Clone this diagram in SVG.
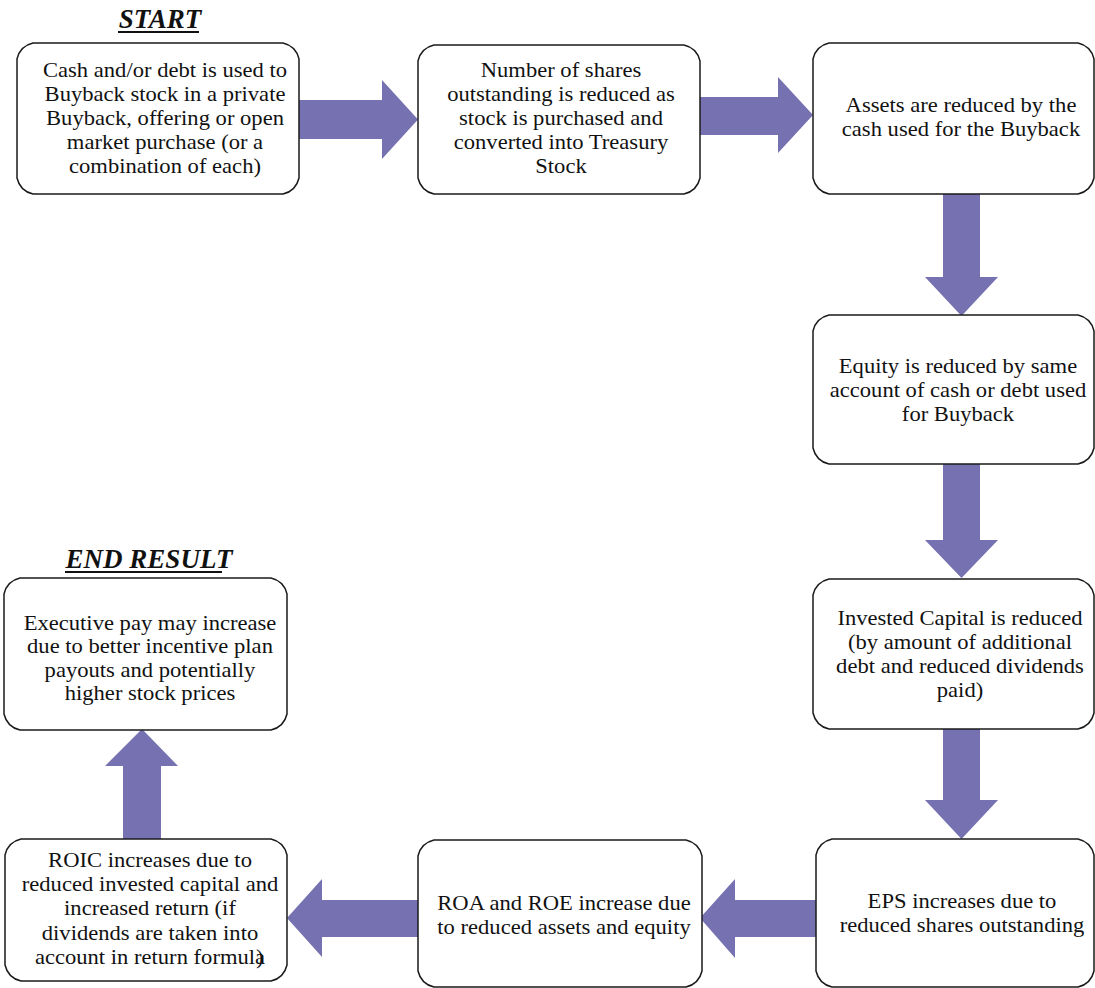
<svg xmlns="http://www.w3.org/2000/svg" width="1095" height="988" viewBox="0 0 1095 988">
<style>
.box{fill:#fff;stroke:#1a1a1a;stroke-width:1.5}
.t{font-family:"Liberation Serif","Times New Roman",serif;font-size:20px;fill:#111;text-anchor:middle}
.h{font-family:"Liberation Serif","Times New Roman",serif;font-size:27px;font-weight:bold;font-style:italic;fill:#111;text-anchor:middle}
.arr{fill:#7671B1}
</style>
<rect width="1095" height="988" fill="#fff"/>
<g id="title-start"><text class="h" x="160" y="28">START</text><line x1="118" y1="32" x2="199" y2="32" stroke="#111" stroke-width="2"/></g>
<g id="title-end"><text class="h" x="149" y="568">END RESULT</text><line x1="65" y1="572" x2="222" y2="572" stroke="#111" stroke-width="2"/></g>
<g id="connectors">
<polygon class="arr" points="299,100 382,100 382,80 418,119.5 382,159 382,139 299,139"/>
<polygon class="arr" points="700,97 778,97 778,77 813,115 778,153 778,135 700,135"/>
<polygon class="arr" points="943,194 980,194 980,277 998,277 961.5,316 925,277 943,277"/>
<polygon class="arr" points="943,464 980,464 980,540 998,540 961.5,578 925,540 943,540"/>
<polygon class="arr" points="943,729 980,729 980,800 998,800 961.5,839 925,800 943,800"/>
<polygon class="arr" points="816,900 735,900 735,879 700,918 735,958 735,937 816,937"/>
<polygon class="arr" points="418,900 322,900 322,879 287,918 322,957 322,937 418,937"/>
<polygon class="arr" points="123,839 123,766 105,766 142,729 178,766 161,766 161,839"/>
</g>
<g id="n1">
<path class="box" d="M33,43 H283 Q296,46 299,59 V178 Q296,191 283,194 H33 Q20,191 17,178 V59 Q20,46 33,43 Z"/>
<text class="t" transform="translate(165,0) scale(1.13,1)"><tspan x="0" y="77">Cash and/or debt is used to</tspan><tspan x="0" y="101">Buyback stock in a private</tspan><tspan x="0" y="125">Buyback, offering or open</tspan><tspan x="0" y="149">market purchase (or a</tspan><tspan x="0" y="173">combination of each)</tspan></text>
</g>
<g id="n2">
<path class="box" d="M434,45 H684 Q697,48 700,61 V178 Q697,191 684,194 H434 Q421,191 418,178 V61 Q421,48 434,45 Z"/>
<text class="t" transform="translate(561,0) scale(1.13,1)"><tspan x="0" y="77">Number of shares</tspan><tspan x="0" y="101">outstanding is reduced as</tspan><tspan x="0" y="125">stock is purchased and</tspan><tspan x="0" y="149">converted into Treasury</tspan><tspan x="0" y="173">Stock</tspan></text>
</g>
<g id="n3">
<path class="box" d="M829,43 H1078 Q1091,46 1094,59 V178 Q1091,191 1078,194 H829 Q816,191 813,178 V59 Q816,46 829,43 Z"/>
<text class="t" transform="translate(961,0) scale(1.13,1)"><tspan x="0" y="112">Assets are reduced by the</tspan><tspan x="0" y="136">cash used for the Buyback</tspan></text>
</g>
<g id="n4">
<path class="box" d="M829,315 H1078 Q1091,318 1094,331 V448 Q1091,461 1078,464 H829 Q816,461 813,448 V331 Q816,318 829,315 Z"/>
<text class="t" transform="translate(958,0) scale(1.13,1)"><tspan x="0" y="373">Equity is reduced by same</tspan><tspan x="0" y="397">account of cash or debt used</tspan><tspan x="0" y="421">for Buyback</tspan></text>
</g>
<g id="n5">
<path class="box" d="M829,579 H1078 Q1091,582 1094,595 V713 Q1091,726 1078,729 H829 Q816,726 813,713 V595 Q816,582 829,579 Z"/>
<text class="t" transform="translate(960,0) scale(1.13,1)"><tspan x="0" y="625">Invested Capital is reduced</tspan><tspan x="0" y="649">(by amount of additional</tspan><tspan x="0" y="673">debt and reduced dividends</tspan><tspan x="0" y="697">paid)</tspan></text>
</g>
<g id="n6">
<path class="box" d="M832,839 H1078 Q1091,842 1094,855 V971 Q1091,984 1078,987 H832 Q819,984 816,971 V855 Q819,842 832,839 Z"/>
<text class="t" transform="translate(962,0) scale(1.13,1)"><tspan x="0" y="908">EPS increases due to</tspan><tspan x="0" y="932">reduced shares outstanding</tspan></text>
</g>
<g id="n7">
<path class="box" d="M434,840 H686 Q699,843 702,856 V971 Q699,984 686,987 H434 Q421,984 418,971 V856 Q421,843 434,840 Z"/>
<text class="t" transform="translate(564,0) scale(1.13,1)"><tspan x="0" y="910">ROA and ROE increase due</tspan><tspan x="0" y="934">to reduced assets and equity</tspan></text>
</g>
<g id="n8">
<path class="box" d="M21,839 H271 Q284,842 287,855 V965 Q284,978 271,981 H21 Q8,978 5,965 V855 Q8,842 21,839 Z"/>
<text class="t" transform="translate(150,0) scale(1.13,1)"><tspan x="0" y="867">ROIC increases due to</tspan><tspan x="0" y="891">reduced invested capital and</tspan><tspan x="0" y="915">increased return (if</tspan><tspan x="0" y="940">dividends are taken into</tspan><tspan x="0" y="964">account in return formula<tspan dx="-8">)</tspan></tspan></text>
</g>
<g id="n9">
<path class="box" d="M20,578 H271 Q284,581 287,594 V714 Q284,727 271,730 H20 Q7,727 4,714 V594 Q7,581 20,578 Z"/>
<text class="t" transform="translate(150,0) scale(1.13,1)"><tspan x="0" y="630">Executive pay may increase</tspan><tspan x="0" y="653">due to better incentive plan</tspan><tspan x="0" y="677">payouts and potentially</tspan><tspan x="0" y="700">higher stock prices</tspan></text>
</g>
</svg>
